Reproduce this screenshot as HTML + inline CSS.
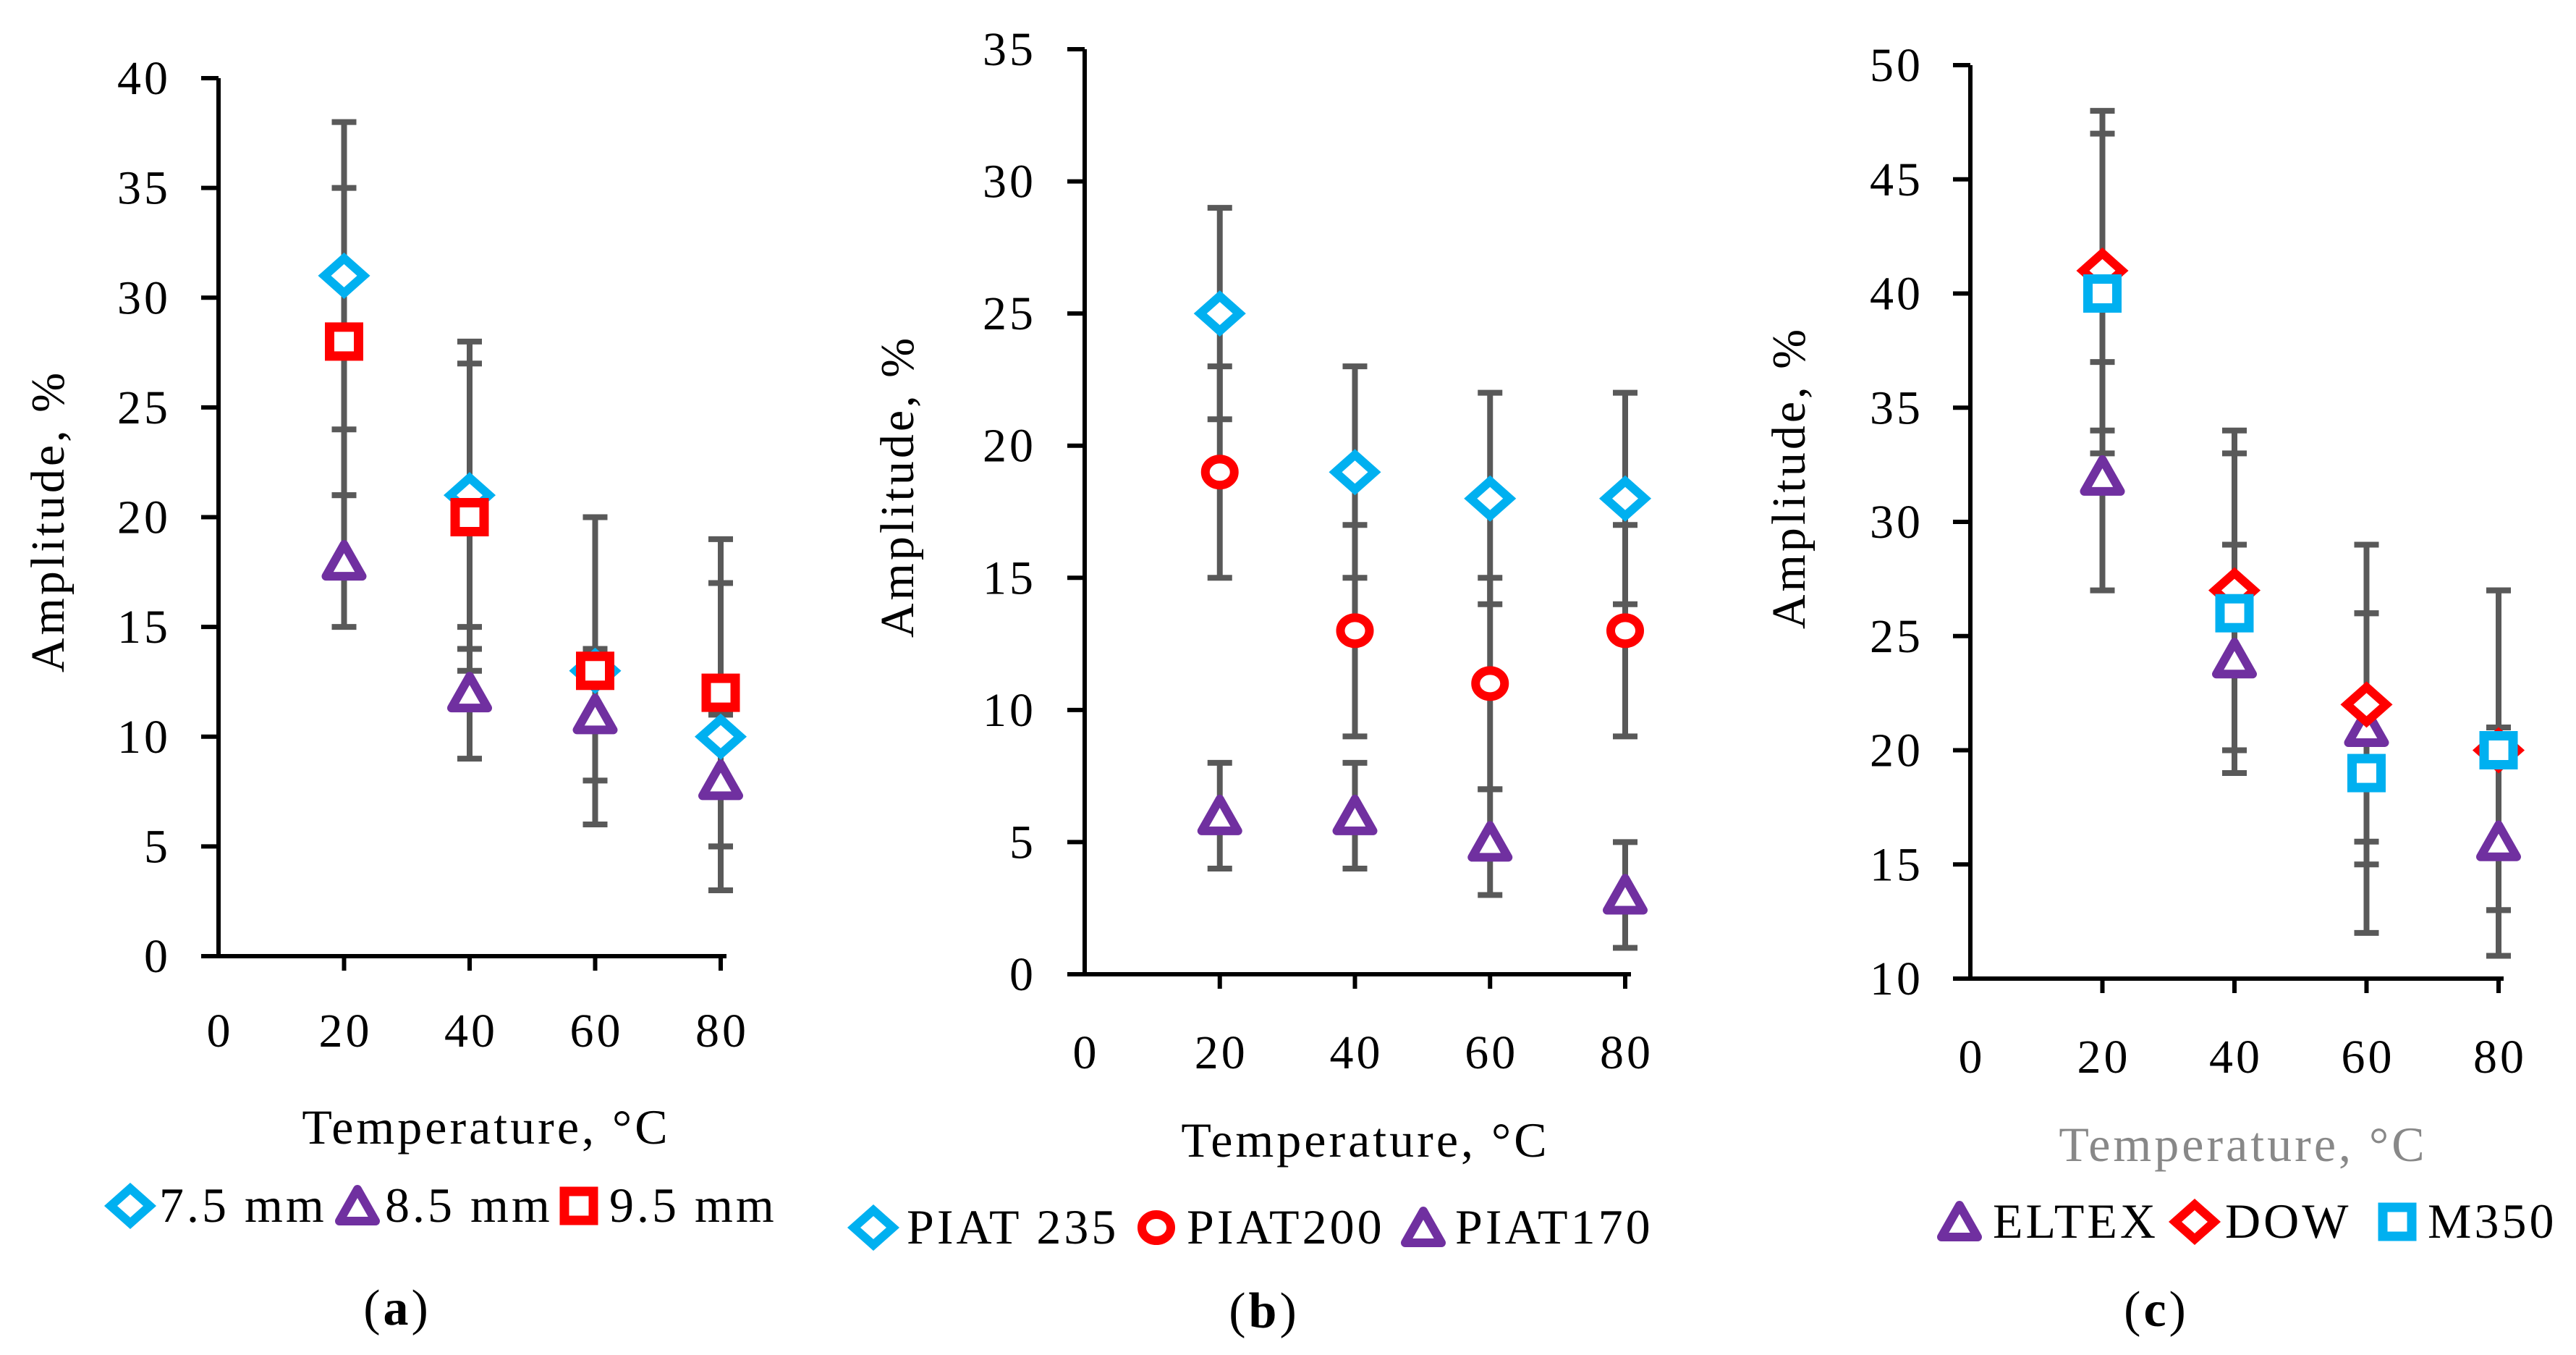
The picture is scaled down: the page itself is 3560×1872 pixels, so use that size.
<!DOCTYPE html>
<html><head><meta charset="utf-8"><style>
body{margin:0;background:#fff}
svg{display:block}
text{font-family:"Liberation Serif",serif;fill:#000;letter-spacing:4px}
</style></head><body>
<svg id="s" width="3560" height="1872" viewBox="0 0 3560 1872"></svg>
<script>
const xCats=[20,40,60,80];
const xTicks=[0,20,40,60,80];
const aNames=["7.5 mm","8.5 mm","9.5 mm"];
const a75=[31,21,13,10], a85=[18,12,11,8], a95=[28,20,13,12];
const aErr=[7,3,7];
const aYTicks=[0,5,10,15,20,25,30,35,40];
const bNames=["PIAT 235","PIAT200","PIAT170"];
const b235=[25,19,18,18], b200=[19,13,11,13], b170=[6,6,5,3];
const bErr=[4,4,2];
const bYTicks=[0,5,10,15,20,25,30,35];
const cNames=["ELTEX","DOW","M350"];
const cEltex=[32,24,21,16], cDow=[41,27,22,20], cM350=[40,26,19,20];
const cErr=[5,7,7];
const cYTicks=[10,15,20,25,30,35,40,45,50];

const NS="http://www.w3.org/2000/svg";
const svg=document.getElementById('s');
function el(tag,attrs,parent){const e=document.createElementNS(NS,tag);for(const k in attrs)e.setAttribute(k,attrs[k]);(parent||svg).appendChild(e);return e;}
const CY="#00b0f0",RD="#ff0000",PU="#7030a0";
function marker(g,type,x,y,color){
  let m;
  if(type==="diamond"){m=el('polygon',{points:`${x-27},${y} ${x},${y-24} ${x+27},${y} ${x},${y+24}`,fill:"#fff",stroke:color,'stroke-width':12},g);}
  else if(type==="square"){m=el('rect',{x:x-20,y:y-20,width:40,height:40,fill:"#fff",stroke:color,'stroke-width':13},g);}
  else if(type==="circle"){m=el('ellipse',{cx:x,cy:y,rx:20,ry:18,fill:"#fff",stroke:color,'stroke-width':12},g);}
  else {m=el('polygon',{points:`${x-25},${y+21} ${x},${y-23} ${x+25},${y+21}`,fill:"#fff",stroke:color,'stroke-width':12,'stroke-linejoin':'round'},g);}
  return m;
}
function panel(cfg){
  const g=el('g',{});
  
  
  const yMin=cfg.yTicks[0], yMax=cfg.yTicks[cfg.yTicks.length-1];
  const X=v=>cfg.x0+(v-0)*(cfg.x80-cfg.x0)/80;
  const Y=v=>cfg.yB+(v-yMin)*(cfg.yT-cfg.yB)/(yMax-yMin);
  const ya=el('line',{x1:cfg.x0,y1:cfg.yT,x2:cfg.x0,y2:cfg.yB,stroke:"#000",'stroke-width':6},g);
  
  const xa=el('line',{x1:cfg.x0-3,y1:cfg.yB,x2:cfg.xEnd,y2:cfg.yB,stroke:"#000",'stroke-width':6},g);
  
  cfg.yTicks.forEach(v=>{
    el('line',{x1:cfg.x0-24,y1:Y(v),x2:cfg.x0,y2:Y(v),stroke:"#000",'stroke-width':6},g);
    const t=el('text',{x:cfg.yLabR,y:Y(v)+22,'text-anchor':'end','font-size':66},g);
    t.textContent=v;
    
  });
  xTicks.forEach(v=>{
    if(v>0)el('line',{x1:X(v),y1:cfg.yB,x2:X(v),y2:cfg.yB+20,stroke:"#000",'stroke-width':6},g);
    const t=el('text',{x:X(v)+2,y:cfg.xLabY,'text-anchor':'middle','font-size':66},g);
    t.textContent=v;
    
  });
  cfg.series.forEach((s,si)=>{
    s.vals.forEach((v,i)=>{
      const x=X(xCats[i]),e=cfg.err[si];
      if(e<=0)return;
      const eb=el('path',{d:`M${x},${Y(v-e)}V${Y(v+e)}M${x-17},${Y(v-e)}H${x+17}M${x-17},${Y(v+e)}H${x+17}`,stroke:"#595959",'stroke-width':8,fill:"none"},g);
      
    });
  });
  cfg.series.forEach(s=>{
    s.vals.forEach((v,i)=>{
      const m=marker(g,s.type,X(xCats[i]),Y(v),s.color);
      
    });
  });
  const yt=el('text',{x:0,y:0,'text-anchor':'middle','font-size':66,transform:`translate(${cfg.ytX},${cfg.ytY}) rotate(-90)`},g);
  yt.textContent="Amplitude, %";
  
  const xt=el('text',{x:cfg.xtX,y:cfg.xtY,'text-anchor':'middle','font-size':68,style:`fill:${cfg.xtColor||'#000'}`},g);
  xt.textContent="Temperature, °C";
  
  cfg.legend.forEach((L,i)=>{
    const s=cfg.series[L.si];
    const lm=marker(g,s.type,L.mx,cfg.legY-22,s.color);
    
    const lt=el('text',{x:L.tx,y:cfg.legY,'font-size':68},g);
    lt.textContent=cfg.names[L.si];
    
  });
  const cap=el('text',{x:cfg.capX,y:cfg.capY,'text-anchor':'middle','font-size':70},g);
  cap.innerHTML='(<tspan font-weight="bold">'+cfg.cap+'</tspan>)';
  
}
panel({id:'panel-a',x0:302,x80:996,xEnd:1004,yT:108,yB:1321,yTicks:aYTicks,yLabR:236,xLabY:1446,
  series:[{vals:a75,type:'diamond',color:CY},{vals:a85,type:'triangle',color:PU},{vals:a95,type:'square',color:RD}],
  err:aErr,names:aNames,ytX:88,ytY:720,xtX:672,xtY:1580,legY:1688,
  legend:[{si:0,mx:180,tx:220},{si:1,mx:494,tx:532},{si:2,mx:800,tx:842}],cap:'a',capX:549,capY:1830});
panel({id:'panel-b',x0:1499,x80:2246,xEnd:2254,yT:68,yB:1346,yTicks:bYTicks,yLabR:1432,xLabY:1476,
  series:[{vals:b235,type:'diamond',color:CY},{vals:b200,type:'circle',color:RD},{vals:b170,type:'triangle',color:PU}],
  err:bErr,names:bNames,ytX:1262,ytY:672,xtX:1887,xtY:1598,legY:1718,
  legend:[{si:0,mx:1207,tx:1253},{si:1,mx:1598,tx:1640},{si:2,mx:1967,tx:2011}],cap:'b',capX:1747,capY:1834});
panel({id:'panel-c',x0:2723,x80:3453,xEnd:3460,yT:90,yB:1352,yTicks:cYTicks,yLabR:2658,xLabY:1482,
  series:[{vals:cEltex,type:'triangle',color:PU},{vals:cDow,type:'diamond',color:RD},{vals:cM350,type:'square',color:CY}],
  err:cErr,names:cNames,ytX:2494,ytY:660,xtX:3100,xtY:1604,xtColor:'#888',legY:1710,
  legend:[{si:0,mx:2708,tx:2754},{si:1,mx:3033,tx:3075},{si:2,mx:3313,tx:3355}],cap:'c',capX:2980,capY:1832});
</script>
</body></html>
